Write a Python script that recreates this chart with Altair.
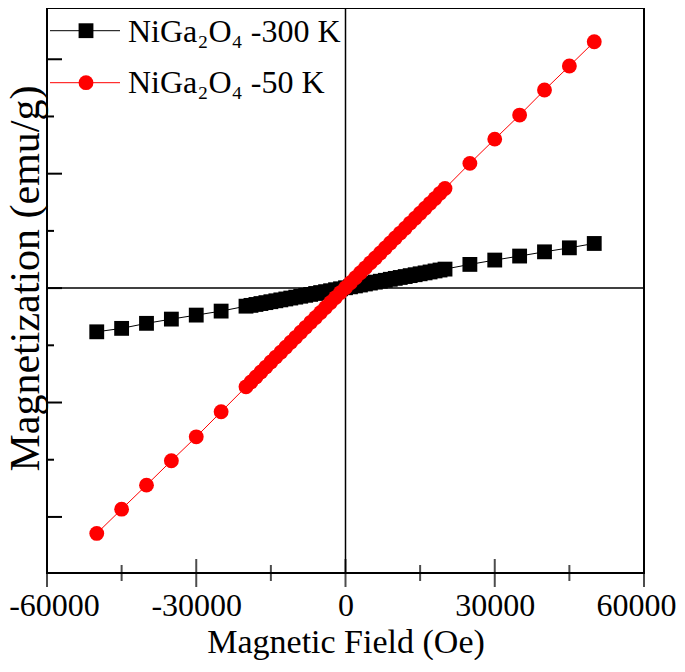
import altair as alt
import pandas as pd

# ---------------- data ----------------
field_low = [-50000, -45000, -40000, -35000, -30000, -25000]
field_dense = [-20000, -19000, -18000, -17000, -16000, -15000, -14000, -13000,
               -12000, -11000, -10000, -9000, -8000, -7000, -6000, -5000,
               -4000, -3000, -2000, -1000, 0, 1000, 2000, 3000, 4000, 5000,
               6000, 7000, 8000, 9000, 10000, 11000, 12000, 13000, 14000,
               15000, 16000, 17000, 18000, 19000, 20000]
field_high = [25000, 30000, 35000, 40000, 45000, 50000]

m300_low = [-0.382, -0.352, -0.308, -0.271, -0.236, -0.201]
m300_dense = [-0.158, -0.151, -0.143, -0.135, -0.127, -0.119, -0.111, -0.103,
              -0.095, -0.087, -0.079, -0.071, -0.063, -0.055, -0.047, -0.039,
              -0.031, -0.023, -0.014, -0.006, 0.003, 0.011, 0.019, 0.027,
              0.036, 0.044, 0.052, 0.060, 0.068, 0.077, 0.085, 0.093, 0.101,
              0.109, 0.117, 0.125, 0.133, 0.141, 0.150, 0.158, 0.166]
m300_high = [0.207, 0.245, 0.280, 0.317, 0.352, 0.390]

m50_low = [-2.144, -1.932, -1.722, -1.509, -1.300, -1.081]
m50_dense = [-0.863, -0.820, -0.776, -0.733, -0.690, -0.646, -0.603, -0.560,
             -0.516, -0.473, -0.430, -0.386, -0.343, -0.299, -0.256, -0.213,
             -0.169, -0.126, -0.083, -0.039, 0.004, 0.047, 0.091, 0.134,
             0.177, 0.221, 0.264, 0.307, 0.351, 0.394, 0.438, 0.481, 0.524,
             0.568, 0.611, 0.654, 0.698, 0.741, 0.784, 0.828, 0.871]
m50_high = [1.090, 1.302, 1.512, 1.731, 1.941, 2.153]

series_names = ["NiGa₂O₄ -300 K", "NiGa₂O₄ -50 K"]
series_colors = ["#000000", "#ff0000"]
series_shapes = ["square", "circle"]

x_tick_labels = [-60000, -30000, 0, 30000, 60000]
x_minor = [-45000, -15000, 15000, 45000]
y_major = [-2, -1, 0, 1, 2]
y_minor = [-1.5, -0.5, 0.5, 1.5]

# ---------------- tables ----------------
fields = field_low + field_dense + field_high
df300 = pd.DataFrame({"H": fields, "M": m300_low + m300_dense + m300_high,
                      "s": series_names[0]})
df50 = pd.DataFrame({"H": fields, "M": m50_low + m50_dense + m50_high,
                     "s": series_names[1]})

W, H = 597, 565
FONT = "Liberation Serif"

x_enc = alt.X("H:Q", scale=alt.Scale(domain=[-60000, 60000], nice=False, zero=False),
              axis=alt.Axis(values=x_tick_labels, ticks=False, tickSize=0, domain=False,
                            grid=False, labelFont=FONT, labelFontSize=32, labelColor="black",
                            labelPadding=17, labelFlush=False, labelOverlap=False,
                            labelBound=False,
                            labelOffset={"condition": [
                                {"test": "datum.value <= -60000", "value": 7},
                                {"test": "datum.value >= 60000", "value": -8}],
                                "value": 0},
                            labelExpr="toString(datum.value)",
                            title="Magnetic Field (Oe)", titleFont=FONT, titleFontSize=34,
                            titleFontWeight="normal", titleColor="black",
                            titleBaseline="alphabetic", titleY=79))
y_enc = alt.Y("M:Q", scale=alt.Scale(domain=[-2.49, 2.448], nice=False, zero=False),
              axis=alt.Axis(labels=False, ticks=False, tickSize=0, domain=False, grid=False,
                            title="Magnetization (emu/g)", titleFont=FONT, titleFontSize=42,
                            titleFontWeight="normal", titleColor="black",
                            titleAngle=270, titleBaseline="alphabetic", titleAlign="center",
                            titleX=-9, titleY=270))

zero_v = alt.Chart(pd.DataFrame({"H": [0]})).mark_rule(color="black", strokeWidth=1.5).encode(x=x_enc)
zero_h = alt.Chart(pd.DataFrame({"M": [0]})).mark_rule(color="black", strokeWidth=1.5).encode(y=y_enc)

xt_major = alt.Chart(pd.DataFrame({"H": x_tick_labels})).mark_tick(
    orient="vertical", size=28, thickness=2, color="black").encode(x=x_enc, y=alt.value(H))
xt_minor = alt.Chart(pd.DataFrame({"H": x_minor})).mark_tick(
    orient="vertical", size=16, thickness=2, color="black").encode(x=x_enc, y=alt.value(H))
yt_major = alt.Chart(pd.DataFrame({"M": y_major})).mark_rule(
    color="black", strokeWidth=2).encode(y=y_enc, x=alt.value(0), x2=alt.value(15))
yt_minor = alt.Chart(pd.DataFrame({"M": y_minor})).mark_rule(
    color="black", strokeWidth=2).encode(y=y_enc, x=alt.value(0), x2=alt.value(7))


def series_layers(df, color, shape):
    line = alt.Chart(df).mark_line(color=color, strokeWidth=1).encode(
        x=x_enc, y=y_enc, order="H:Q")
    pts = alt.Chart(df).mark_point(filled=True, size=220, opacity=1, color=color,
                                   shape=shape, strokeWidth=0).encode(x=x_enc, y=y_enc)
    return [line, pts]


def legend_layers(name, color, shape, ly, ty):
    ln = alt.Chart(pd.DataFrame({"s": [name]})).mark_rule(color=color, strokeWidth=1).encode(
        x=alt.value(3), x2=alt.value(73), y=alt.value(ly))
    sym = alt.Chart(pd.DataFrame({"s": [name]})).mark_point(
        filled=True, size=220, opacity=1, color=color, shape=shape, strokeWidth=0).encode(
        x=alt.value(39), y=alt.value(ly))
    txt = alt.Chart(pd.DataFrame({"s": [name]})).mark_text(
        font=FONT, fontSize=32, align="left", baseline="alphabetic", color="black").encode(
        x=alt.value(81), y=alt.value(ty), text="s:N")
    return [ln, sym, txt]


layers = [zero_v, zero_h, xt_major, xt_minor, yt_major, yt_minor]
layers += series_layers(df300, series_colors[0], series_shapes[0])
layers += series_layers(df50, series_colors[1], series_shapes[1])
layers += legend_layers(series_names[0], series_colors[0], series_shapes[0], 22.7, 34)
layers += legend_layers(series_names[1], series_colors[1], series_shapes[1], 74.7, 85)

chart = alt.layer(*layers).properties(
    width=W, height=H,
    background="white",
    autosize=alt.AutoSizeParams(type="none"),
    padding={"left": 39, "top": 0, "right": 33, "bottom": 87},
).configure_view(stroke="black", strokeWidth=2, fill="white")

chart.save("out.html", embed_options={"renderer": "svg", "actions": False})
